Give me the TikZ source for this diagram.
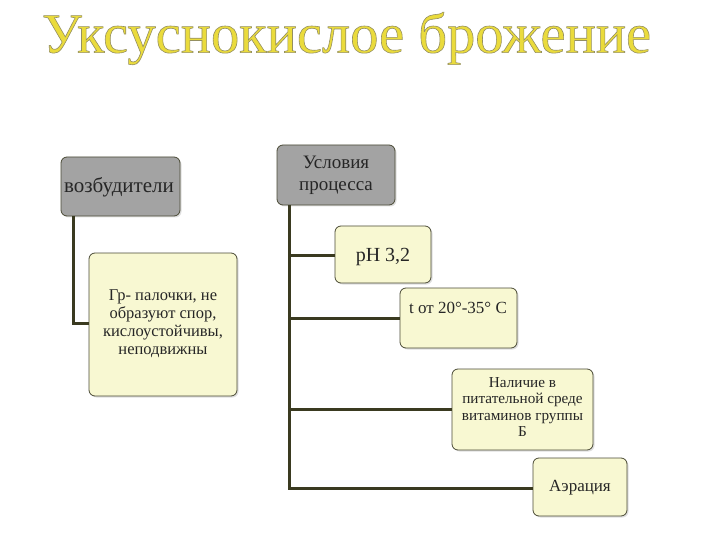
\documentclass[tikz,border=0pt]{standalone}
\usepackage{fontspec}
\setmainfont{Liberation Serif}
\usetikzlibrary{shadows}
\definecolor{linec}{HTML}{3A3A20}
\definecolor{grayfill}{HTML}{A3A3A3}
\definecolor{yelfill}{HTML}{F8F8D2}
\definecolor{boxedge}{HTML}{4A4A35}
\definecolor{titley}{HTML}{EADB3C}
\newcommand{\outlineon}{\special{pdf:literal direct 2 Tr 0.6 w 0.58 0.56 0.38 RG}}
\newcommand{\outlineoff}{\special{pdf:literal direct 0 Tr}}
\tikzset{
  box/.style={draw=boxedge, line width=0.8pt, rounded corners=6pt, inner sep=0pt,
    drop shadow={shadow xshift=1.5pt, shadow yshift=-1.5pt, fill=black!25}},
  graybox/.style={box, fill=grayfill},
  yelbox/.style={box, fill=yelfill},
  conn/.style={draw=linec, line width=3pt},
  lbl/.style={align=center, text=black!85, inner sep=0pt}
}
\begin{document}
\begin{tikzpicture}[x=1pt,y=-1pt]
\useasboundingbox (0,0) rectangle (720,540);
% title
\node[text=titley, font=\fontsize{56.5}{60}\selectfont] (title) at (346.5,38.5)
  {\outlineon Уксуснокислое брожение\outlineoff};
% boxes
\path[graybox] (61,157) rectangle (180,216);
\path[graybox] (277,145) rectangle (395,205);
\path[yelbox] (89,253) rectangle (237,396);
\path[yelbox] (335,226) rectangle (431,283);
\path[yelbox] (400,288) rectangle (517,348);
\path[yelbox] (452,369) rectangle (593,450);
\path[yelbox] (533,458) rectangle (627,516);
% named anchors
\coordinate (v) at (73,216);
\coordinate (vc) at (73,323);
\coordinate (gr) at (89,323);
\coordinate (u) at (289,205);
\coordinate (u1) at (289,255);
\coordinate (u2) at (289,318);
\coordinate (u3) at (289,409);
\coordinate (u4) at (289,488);
\coordinate (p) at (335,255);
\coordinate (t) at (400,318);
\coordinate (n) at (452,409);
\coordinate (a) at (533,488);
% connectors
\draw[conn] (v) -- (vc) -- (gr);
\draw[conn] (u) -- (u4) -- (a);
\draw[conn] (u1) -- (p);
\draw[conn] (u2) -- (t);
\draw[conn] (u3) -- (n);
% labels
\node[lbl, font=\fontsize{21}{23}\selectfont] (vl) at (119,187) {возбудители};
\node[lbl, font=\fontsize{19}{22}\selectfont] (ul) at (336,175) {Условия\\процесса};
\node[lbl, font=\fontsize{16.5}{18}\selectfont] (grl) at (163,324) {Гр- палочки, не\\образуют спор,\\кислоустойчивы,\\неподвижны};
\node[lbl, font=\fontsize{20}{22}\selectfont] (pl) at (383,257) {рН 3,2};
\node[lbl, font=\fontsize{17}{19}\selectfont] (tl) at (458,308) {t от 20°-35° С};
\node[lbl, font=\fontsize{15.2}{16.2}\selectfont] (nl) at (522.5,407) {Наличие в\\питательной среде\\витаминов группы\\Б};
\node[lbl, font=\fontsize{17}{19}\selectfont] (al) at (580,488) {Аэрация};
\end{tikzpicture}
\end{document}
